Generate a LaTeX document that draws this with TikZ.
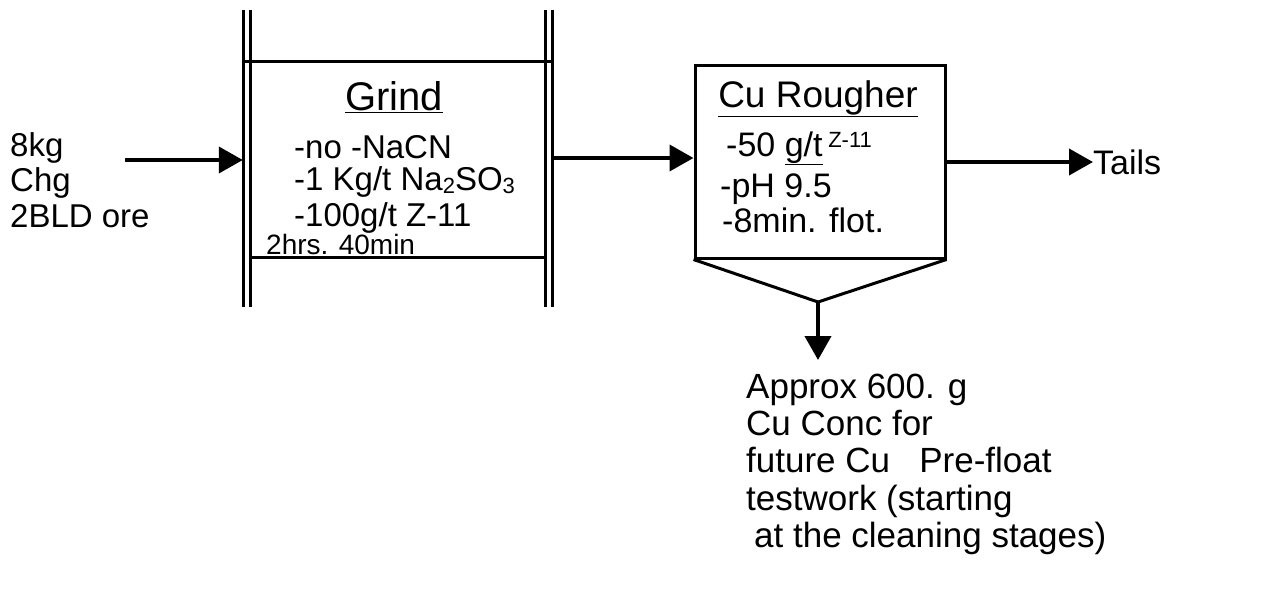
\documentclass[tikz,border=0pt]{standalone}
\usepackage{fontspec}
\setmainfont{Liberation Sans}
\usetikzlibrary{arrows.meta}
\newcommand{\lowsub}[1]{\raisebox{-3pt}{\fontsize{22}{22}\selectfont #1}}
\begin{document}
\begin{tikzpicture}[x=1pt,y=-1pt,
  ink/.style={line width=4pt,draw=black},
  thin ink/.style={line width=3pt,draw=black},
  flow/.style={ink,-{Triangle[length=24pt,width=26pt]}},
  txt/.style={anchor=base west,inner sep=0pt,font=\fontsize{#1}{#1}\selectfont},
  unit/.style={draw=none,minimum width=#1,inner sep=0pt}]
\useasboundingbox[fill=white] (0,0) rectangle (1264,613);

% Grind unit
\node[unit=309pt,minimum height=196pt] (grind) at (397.5,159) {};
\draw[thin ink] (243,61) -- (552,61);
\draw[thin ink] (250,257) -- (545,257);
\draw[thin ink] (243,10) -- (243,307);
\draw[thin ink] (250,10) -- (250,307);
\draw[thin ink] (545,10) -- (545,307);
\draw[thin ink] (552,10) -- (552,307);
\node[txt=40,anchor=base] (gtitle) at (394,110) {\underline{Grind}};
\node[txt=33] (g1) at (294,158) {-no -NaCN};
\node[txt=33] (g2) at (294,190) {-1 Kg/t Na\lowsub{2}SO\lowsub{3}};
\node[txt=33] (g3) at (294,226) {-100g/t Z-11};
\node[txt=28] (g4) at (266,254) {2hrs. 40min};

% Rougher unit
\node[unit=250pt,minimum height=193pt,draw,line width=3pt] (rough) at (820,161.5) {};
\coordinate (tip) at (818,302);
\draw[thin ink,line join=miter] (rough.south west) -- (tip) -- (rough.south east);
\node[txt=37,anchor=base] (rtitle) at (818,107) {\underline{Cu Rougher}};
\node[txt=34] (r1) at (726,156) {-50 \underline{g/t}\,\raisebox{9pt}{\fontsize{22}{22}\selectfont Z-11}};
\node[txt=34] (r2) at (720,197) {-pH 9.5};
\node[txt=34] (r3) at (722,232) {-8min. flot.};

% Feed
\node[txt=33] (f1) at (10,156) {8kg};
\node[txt=33] (f2) at (10,191) {Chg};
\node[txt=33] (f3) at (10,227) {2BLD ore};
\coordinate (feedstart) at (125,160);
\draw[flow] (feedstart) -- (grind.west |- feedstart);

% Grind to rougher
\draw[flow] (grind.east |- 0,158) -- (rough.west |- 0,158);

% Tails
\node[txt=34,anchor=west] (tails) at (1093,162) {Tails};
\draw[flow] (rough.east |- tails.west) -- (tails.west);

% Concentrate
\node[txt=35] (c1) at (746,398) {Approx 600. g};
\node[txt=35] (c2) at (746,435) {Cu Conc for};
\node[txt=35] (c3) at (746,472) {future Cu \ \ Pre-float};
\node[txt=35] (c4) at (746,510) {testwork (starting};
\node[txt=35] (c5) at (754,547) {at the cleaning stages)};
\coordinate (concin) at (818,360);
\draw[flow] (tip) -- (concin);
\end{tikzpicture}
\end{document}
